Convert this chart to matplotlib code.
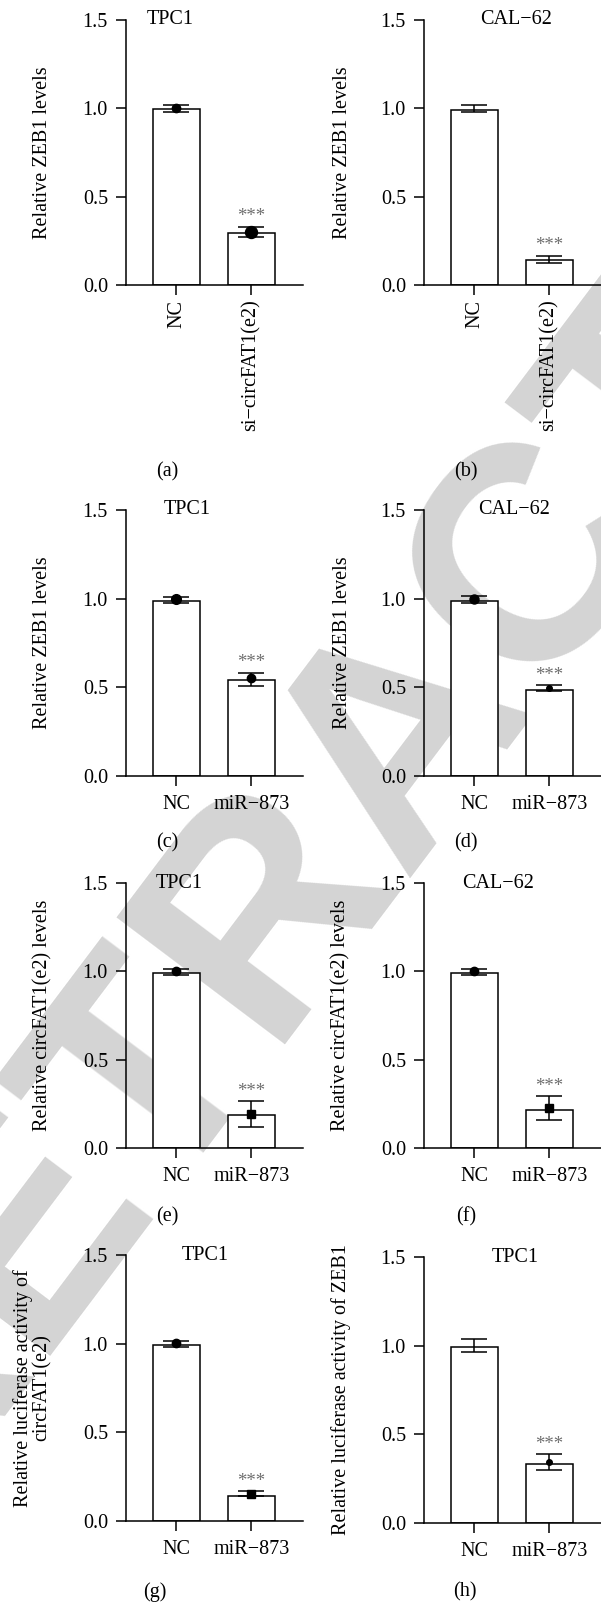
import matplotlib
matplotlib.use("Agg")
import matplotlib.pyplot as plt
import numpy as np

plt.rcParams['font.family'] = ['Liberation Serif', 'DejaVu Serif']

# ---------------- data ----------------
categories_ab = ["NC", "si\u2212circFAT1(e2)"]
categories_mir = ["NC", "miR\u2212873"]

titles = ["TPC1", "CAL\u221262", "TPC1", "CAL\u221262", "TPC1", "CAL\u221262", "TPC1", "TPC1"]
panel_labels = ["(a)", "(b)", "(c)", "(d)", "(e)", "(f)", "(g)", "(h)"]
ylabels = ["Relative ZEB1 levels", "Relative ZEB1 levels",
           "Relative ZEB1 levels", "Relative ZEB1 levels",
           "Relative circFAT1(e2) levels", "Relative circFAT1(e2) levels",
           "Relative luciferase activity of\ncircFAT1(e2)",
           "Relative luciferase activity of ZEB1"]

bar_a = [0.996, 0.292]
bar_b = [0.990, 0.140]
bar_c = [0.987, 0.539]
bar_d = [0.987, 0.486]
bar_e = [0.992, 0.185]
bar_f = [0.992, 0.213]
bar_g = [0.995, 0.143]
bar_h = [0.995, 0.334]

err_lo_a = [0.977, 0.270]; err_hi_a = [1.017, 0.330]
err_lo_b = [0.980, 0.125]; err_hi_b = [1.020, 0.166]
err_lo_c = [0.974, 0.510]; err_hi_c = [1.011, 0.582]
err_lo_d = [0.976, 0.478]; err_hi_d = [1.015, 0.514]
err_lo_e = [0.977, 0.120]; err_hi_e = [1.015, 0.267]
err_lo_f = [0.979, 0.160]; err_hi_f = [1.013, 0.292]
err_lo_g = [0.980, 0.143]; err_hi_g = [1.016, 0.170]
err_lo_h = [0.967, 0.298]; err_hi_h = [1.038, 0.390]

pt_a = [1.004, 0.302]
pt_b = [None, None]
pt_c = [0.998, 0.550]
pt_d = [0.998, 0.497]
pt_e = [1.002, 0.194]
pt_f = [1.000, 0.224]
pt_g = [1.002, 0.153]
pt_h = [None, 0.345]

yticks = [0.0, 0.5, 1.0, 1.5]

bars = [bar_a, bar_b, bar_c, bar_d, bar_e, bar_f, bar_g, bar_h]
err_lo = [err_lo_a, err_lo_b, err_lo_c, err_lo_d, err_lo_e, err_lo_f, err_lo_g, err_lo_h]
err_hi = [err_hi_a, err_hi_b, err_hi_c, err_hi_d, err_hi_e, err_hi_f, err_hi_g, err_hi_h]
points = [pt_a, pt_b, pt_c, pt_d, pt_e, pt_f, pt_g, pt_h]

# ---------------- styling / layout ----------------
W, H = 601, 1613
DPI = 100
fig = plt.figure(figsize=(W / DPI, H / DPI), dpi=DPI)
fig.patch.set_facecolor("white")

# watermark (behind everything)
fig.text(402 / W, 1 - 732 / H, "RETRACTED", fontsize=220, fontweight="bold",
         family="Liberation Sans", color="#d4d4d4", rotation=53,
         ha="center", va="center", rotation_mode="anchor", zorder=-10)

col_x = [(126, 303), (424, 601)]
row_y = [(20, 285), (20, 285), (510, 776), (510, 776), (883, 1148), (883, 1148),
         (1255, 1521), (1257, 1523)]

title_x = [0.249, 0.52, 0.345, 0.51, 0.30, 0.42, 0.446, 0.514]
label_xy = [(167, 472), (466, 472), (167, 843), (466, 843), (167, 1217), (466, 1217),
            (155, 1592), (465, 1592)]
ylabel_x = [-0.469, -0.458, -0.469, -0.458, -0.469, -0.469, -0.531, -0.469]

markers = [("o", "o"), (None, None), ("o", "o"), ("o", "o"), ("o", "s"), ("o", "s"),
           ("o", "s"), (None, "o")]
msizes = [(6.0, 8.6), (0, 0), (7.0, 6.0), (6.5, 4.0), (6.0, 6.0), (6.0, 6.0),
          (6.0, 5.2), (0, 4.0)]

FS = 14.5
LW = 1.1
pos = np.arange(2)

for i in range(8):
    c = i % 2
    x0, x1 = col_x[c]
    yt, yb = row_y[i]
    ax = fig.add_axes([x0 / W, 1 - yb / H, (x1 - x0) / W, (yb - yt) / H])
    ax.patch.set_alpha(0)
    ax.set_xlim(-0.673, 1.687)
    ax.set_ylim(0, 1.5)

    ax.bar(pos, bars[i], width=0.627, facecolor="white", edgecolor="black",
           linewidth=LW, zorder=2)
    lo = np.array(bars[i]) - np.array(err_lo[i])
    hi = np.array(err_hi[i]) - np.array(bars[i])
    ax.errorbar(pos, bars[i], yerr=[lo, hi], fmt="none", ecolor="black",
                elinewidth=LW, capsize=9.4, capthick=LW, zorder=3)
    for j in range(2):
        if points[i][j] is not None:
            ax.plot(pos[j], points[i][j], marker=markers[i][j], color="black",
                    markersize=msizes[i][j], linestyle="none", zorder=4)
    ax.text(pos[1], err_hi[i][1] + 0.03, "***", ha="center", va="baseline",
            fontsize=13.5, color="#6e6e6e", zorder=5)

    for s in ["top", "right"]:
        ax.spines[s].set_visible(False)
    for s in ["left", "bottom"]:
        ax.spines[s].set_linewidth(LW)

    ax.set_yticks(yticks)
    ax.set_yticklabels(["%.1f" % v for v in yticks], fontsize=FS)
    ax.set_xticks(pos)
    if i < 2:
        ax.set_xticklabels(categories_ab, rotation=90, fontsize=FS, va="top")
        ax.tick_params(axis="x", pad=3)
    else:
        ax.set_xticklabels(categories_mir, fontsize=FS)
        ax.tick_params(axis="x", pad=6)
    ax.tick_params(axis="both", length=7.5, width=LW, direction="out")
    ax.tick_params(axis="y", pad=5.5)

    ax.set_ylabel(ylabels[i], fontsize=FS, va="center", linespacing=0.95)
    ax.yaxis.set_label_coords(ylabel_x[i], 0.5)

    ax.text(title_x[i], 1.0, titles[i], transform=ax.transAxes, ha="center",
            va="center", fontsize=FS)

    lx, ly = label_xy[i]
    fig.text(lx / W, 1 - ly / H, panel_labels[i], ha="center", va="center",
             fontsize=FS)

fig.savefig("out.png", dpi=DPI)
